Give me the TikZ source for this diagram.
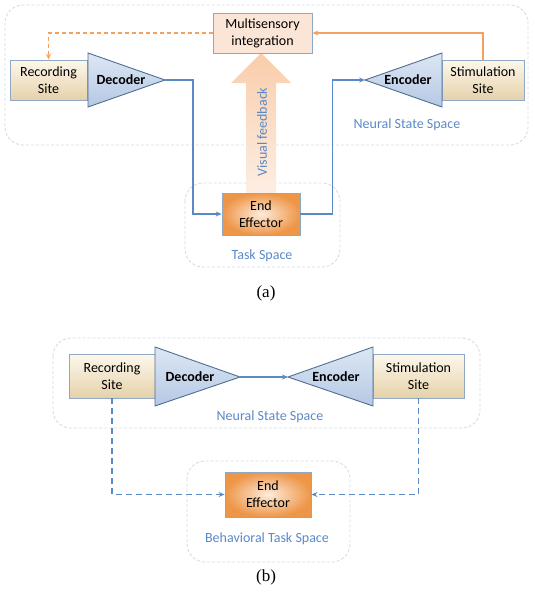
\documentclass[tikz,border=0pt]{standalone}
\usepackage{fontspec}
\setmainfont{Carlito}
\newfontfamily\tnr{Liberation Serif}
\usetikzlibrary{arrows.meta}
\definecolor{lineblue}{HTML}{5A8AC6}
\definecolor{txtblue}{HTML}{5B88C6}
\definecolor{orangeln}{HTML}{F4A15D}
\definecolor{boxedge}{HTML}{8FA8C6}
\definecolor{triedge}{HTML}{4F6D92}
\definecolor{contc}{HTML}{D3DCE8}
\definecolor{siteTop}{HTML}{FDF8EC}
\definecolor{siteBot}{HTML}{E5D1AA}
\definecolor{triTop}{HTML}{DDE7F3}
\definecolor{triBot}{HTML}{B5C8E4}
\definecolor{eeIn}{HTML}{FDECDC}
\definecolor{eeOut}{HTML}{EE9648}
\definecolor{multifill}{HTML}{FBE5D6}
\definecolor{arrTop}{HTML}{F9CDAA}
\definecolor{arrBot}{HTML}{FDEEE3}
\begin{document}
\begin{tikzpicture}[x=1pt,y=-1pt,
  lbl/.style={font=\fontsize{14}{17}\selectfont},
  boldlbl/.style={font=\fontsize{14}{17}\selectfont\bfseries},
  container/.style={draw=contc, dash pattern=on 3pt off 2pt, rounded corners=18pt, line width=0.9pt},
  sitebox/.style={draw=boxedge, line width=0.8pt, top color=siteTop, bottom color=siteBot, align=center, inner sep=0pt, lbl},
  eebox/.style={draw=boxedge, line width=0.8pt, inner color=eeIn, outer color=eeOut, align=center, inner sep=0pt, lbl},
  tri/.style={draw=triedge, line width=0.9pt, top color=triTop, bottom color=triBot, line join=miter},
  conn/.style={draw=lineblue, line width=1.1pt, -{Stealth[length=6pt,width=5pt]}},
  dconn/.style={conn, dash pattern=on 6pt off 4pt},
  oconn/.style={draw=orangeln, line width=1.2pt, -{Stealth[length=6pt,width=5pt]}},
  spacelbl/.style={text=txtblue, lbl},
  caption/.style={font=\tnr\fontsize{17}{20}\selectfont}
]
\useasboundingbox (0,0) rectangle (535,600);

% ===== (a) =====
\draw[container] (5,5) rectangle (528,145);
\draw[container] (185,183) rectangle (340,267);
\node[spacelbl] (nssa) at (407,125) {Neural State Space};
\node[spacelbl] (tsa) at (262,256) {Task Space};

% big visual feedback arrow
\shade[top color=arrTop, bottom color=arrBot]
  (246,193) -- (246,83) -- (231,83) -- (261,53) -- (291,83) -- (276,83) -- (276,193) -- cycle;
\node[spacelbl, rotate=90] (vf) at (262,132) {Visual feedback};

\node[sitebox, minimum width=77pt, minimum height=40pt] (reca) at (48.5,80) {Recording\\Site};
\node[sitebox, minimum width=82pt, minimum height=40pt] (stima) at (483,80) {Stimulation\\Site};
\node[draw=boxedge, line width=0.8pt, fill=multifill, align=center, inner sep=0pt, lbl,
      minimum width=99pt, minimum height=40pt] (multi) at (262.5,33) {Multisensory\\integration};
\node[eebox, minimum width=78pt, minimum height=42pt] (eea) at (261,214) {End\\Effector};

\path[tri] (88,53) -- (88,107) -- (165,80) -- cycle;
\coordinate (dectipa) at (165,80);
\node[boldlbl] (deca) at (121,80) {Decoder};
\path[tri] (442,53) -- (442,107) -- (365,80) -- cycle;
\coordinate (enctipa) at (365,80);
\node[boldlbl] (enca) at (408,80) {Encoder};

\draw[conn] (dectipa) -- ++(28,0) |- (eea.west);
\draw[conn] (eea.east) -- ++(32,0) |- (enctipa);
\draw[oconn] (stima.north) |- (multi.east);
\draw[oconn, dash pattern=on 4pt off 3pt] (multi.west) -| (reca.north);

\node[caption] (capa) at (266,293) {(a)};

% ===== (b) =====
\draw[container] (53,338) rectangle (480,428);
\draw[container] (187,461) rectangle (350,562);
\node[spacelbl] (nssb) at (270,417) {Neural State Space};
\node[spacelbl] (btsb) at (267,539) {Behavioral Task Space};

\node[sitebox, minimum width=86pt, minimum height=44pt] (recb) at (112,376) {Recording\\Site};
\node[sitebox, minimum width=91pt, minimum height=44pt] (stimb) at (418.5,376) {Stimulation\\Site};
\node[eebox, minimum width=86pt, minimum height=45pt] (eeb) at (268,494.5) {End\\Effector};

\path[tri] (155,347) -- (155,406) -- (240,377) -- cycle;
\coordinate (dectipb) at (240,377);
\node[boldlbl] (decb) at (190,377) {Decoder};
\path[tri] (373,347) -- (373,406) -- (288,377) -- cycle;
\coordinate (enctipb) at (288,377);
\node[boldlbl] (encb) at (336,377) {Encoder};

\draw[conn] (dectipb) -- (enctipb);
\draw[dconn] (recb.south) |- (eeb.west);
\draw[dconn] (stimb.south) |- (eeb.east);

\node[caption] (capb) at (266,577) {(b)};
\end{tikzpicture}
\end{document}
